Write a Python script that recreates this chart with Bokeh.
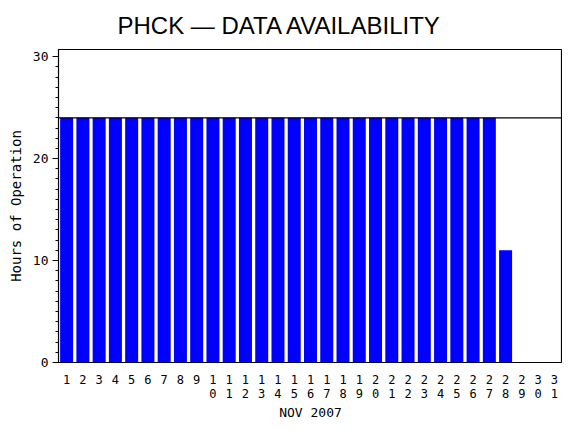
from bokeh.plotting import figure
from bokeh.models import Range1d, FixedTicker, Span, Title
from bokeh.embed import file_html
from bokeh.resources import INLINE

# ---- data ----
days = list(range(1, 29))
hours = [24] * 27 + [11]
tick_days = list(range(1, 32))
tick_labels = [str(d) if d < 10 else str(d)[0] + "\n" + str(d)[1] for d in tick_days]
y_ticks = [0, 10, 20, 30]
full_day = 24
title_text = "PHCK \u2014 DATA AVAILABILITY"
x_title = "NOV 2007"
y_title = "Hours of Operation"

MONO = "DejaVu Sans Mono"

p = figure(width=562, height=422, output_backend="svg", toolbar_location=None,
           x_range=Range1d(0.5, 31.5), y_range=Range1d(0, 30.7),
           min_border_left=58, min_border_right=0, min_border_top=49, min_border_bottom=60)
p.title = None

t = Title(text=title_text, align="left", offset=59, vertical_align="top",
          text_font="Liberation Sans", text_font_size="24px", text_font_style="normal",
          text_color="black", standoff=18)
p.add_layout(t, "above")

p.vbar(x=days, top=hours, width=0.8, fill_color="#0000FF", line_color=None)

p.add_layout(Span(location=full_day, dimension="width", line_color="black", line_width=1.2))

p.grid.visible = False
p.outline_line_color = "black"
p.outline_line_width = 1.2
p.background_fill_color = "white"
p.border_fill_color = "white"

xa = p.xaxis[0]
xa.ticker = FixedTicker(ticks=tick_days)
xa.major_label_overrides = {d: lab for d, lab in zip(tick_days, tick_labels)}
xa.major_tick_line_color = None
xa.minor_tick_line_color = None
xa.axis_line_color = None
xa.major_tick_out = 0
xa.major_tick_in = 0
xa.major_label_standoff = 10
xa.major_label_text_font = MONO
xa.major_label_text_font_size = "12px"
xa.major_label_text_line_height = 1.0
xa.major_label_text_color = "black"
xa.axis_label = x_title
xa.axis_label_text_font = MONO
xa.axis_label_text_font_size = "13px"
xa.axis_label_text_font_style = "normal"
xa.axis_label_text_color = "black"
xa.axis_label_standoff = 1

ya = p.yaxis[0]
ya.ticker = FixedTicker(ticks=y_ticks, minor_ticks=list(range(0, 31)))
ya.axis_line_color = "black"
ya.major_tick_out = 6
ya.major_tick_in = 0
ya.minor_tick_out = 3
ya.minor_tick_in = 0
ya.major_tick_line_color = "black"
ya.minor_tick_line_color = "black"
ya.major_label_standoff = 4
ya.major_label_text_font = MONO
ya.major_label_text_font_size = "13px"
ya.major_label_text_color = "black"
ya.axis_label = y_title
ya.axis_label_text_font = MONO
ya.axis_label_text_font_size = "14px"
ya.axis_label_text_font_style = "normal"
ya.axis_label_text_color = "black"
ya.axis_label_standoff = 6

open("out.html", "w").write(file_html(p, INLINE))
